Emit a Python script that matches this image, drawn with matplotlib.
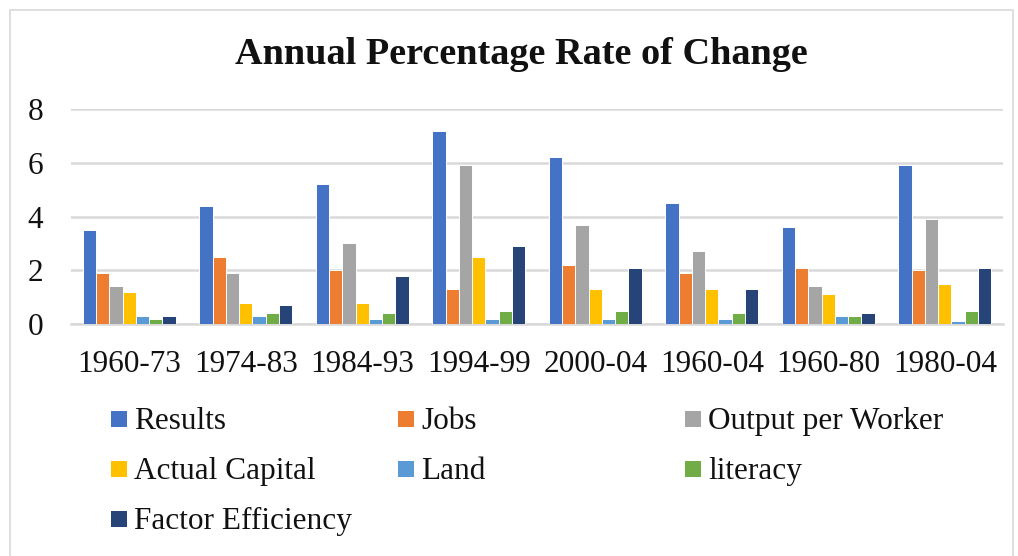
import matplotlib
matplotlib.use("Agg")
import matplotlib.pyplot as plt
import numpy as np
from matplotlib.patches import Rectangle

categories = ["1960-73", "1974-83", "1984-93", "1994-99", "2000-04", "1960-04", "1960-80", "1980-04"]
series_names = ["Results", "Jobs", "Output per Worker", "Actual Capital", "Land", "literacy", "Factor Efficiency"]
results = [3.5, 4.4, 5.2, 7.2, 6.2, 4.5, 3.6, 5.9]
jobs = [1.9, 2.5, 2.0, 1.3, 2.2, 1.9, 2.1, 2.0]
output_per_worker = [1.4, 1.9, 3.0, 5.9, 3.7, 2.7, 1.4, 3.9]
actual_capital = [1.2, 0.8, 0.8, 2.5, 1.3, 1.3, 1.1, 1.5]
land = [0.3, 0.3, 0.2, 0.2, 0.2, 0.2, 0.3, 0.1]
literacy = [0.2, 0.4, 0.4, 0.5, 0.5, 0.4, 0.3, 0.5]
factor_efficiency = [0.3, 0.7, 1.8, 2.9, 2.1, 1.3, 0.4, 2.1]
yticks = [0, 2, 4, 6, 8]

colors = ["#4472C4", "#ED7D31", "#A5A5A5", "#FFC000", "#5B9BD5", "#70AD47", "#264478"]
all_series = [results, jobs, output_per_worker, actual_capital, land, literacy, factor_efficiency]

plt.rcParams['font.family'] = ['Liberation Serif', 'DejaVu Serif']

W, H = 1018, 556
fig = plt.figure(figsize=(W / 100, H / 100), dpi=100)
fig.patch.set_facecolor("white")

# chart border
fig.add_artist(Rectangle((10 / W, -0.02), (1013 - 10) / W, 1 - 10 / H + 0.02,
                         transform=fig.transFigure, fill=False,
                         edgecolor="#D9D9D9", linewidth=1.2))

ax = fig.add_axes([71 / W, 1 - 324 / H, (1003 - 71) / W, (324 - 109) / H])
x = np.arange(len(categories))
n = len(all_series)
bw = 0.114
for i, (vals, c) in enumerate(zip(all_series, colors)):
    offs = (i - (n - 1) / 2) * bw
    ax.bar(x + offs, vals, width=bw, color=c, edgecolor="white", linewidth=0.7,
           zorder=3)

ax.set_xlim(-0.5, len(categories) - 0.5)
ax.set_ylim(0, 8)
ax.set_yticks(yticks)
ax.set_yticklabels([str(t) for t in yticks])
ax.set_xticks(x)
ax.set_xticklabels(categories)
ax.tick_params(axis="both", length=0, labelsize=22.5, colors="#111111")
ax.tick_params(axis="x", pad=19)
ax.tick_params(axis="y", pad=20)
ax.grid(axis="y", color="#D9D9D9", linewidth=1.8, zorder=0)
for s in ["top", "right", "left"]:
    ax.spines[s].set_visible(False)
ax.spines["bottom"].set_color("#D9D9D9")
ax.spines["bottom"].set_linewidth(1.8)

fig.text(521 / W, 1 - 55 / H, "Annual Percentage Rate of Change", ha="center", va="center",
         fontsize=27.5, fontweight="bold", color="#111111")

# legend, laid out in rows like Excel
col_x = [111, 398, 685]
row_y = [419, 469, 519]
for i, (name, c) in enumerate(zip(series_names, colors)):
    r, cidx = divmod(i, 3)
    fig.add_artist(Rectangle((col_x[cidx] / W, 1 - (row_y[r] + 8) / H), 16 / W, 16 / H,
                             transform=fig.transFigure, facecolor=c, edgecolor="none"))
    fig.text((col_x[cidx] + 23) / W, 1 - (row_y[r] + 10) / H, name, ha="left", va="baseline",
             fontsize=22.5, color="#111111")

fig.savefig("out.png", dpi=100, facecolor="white")
